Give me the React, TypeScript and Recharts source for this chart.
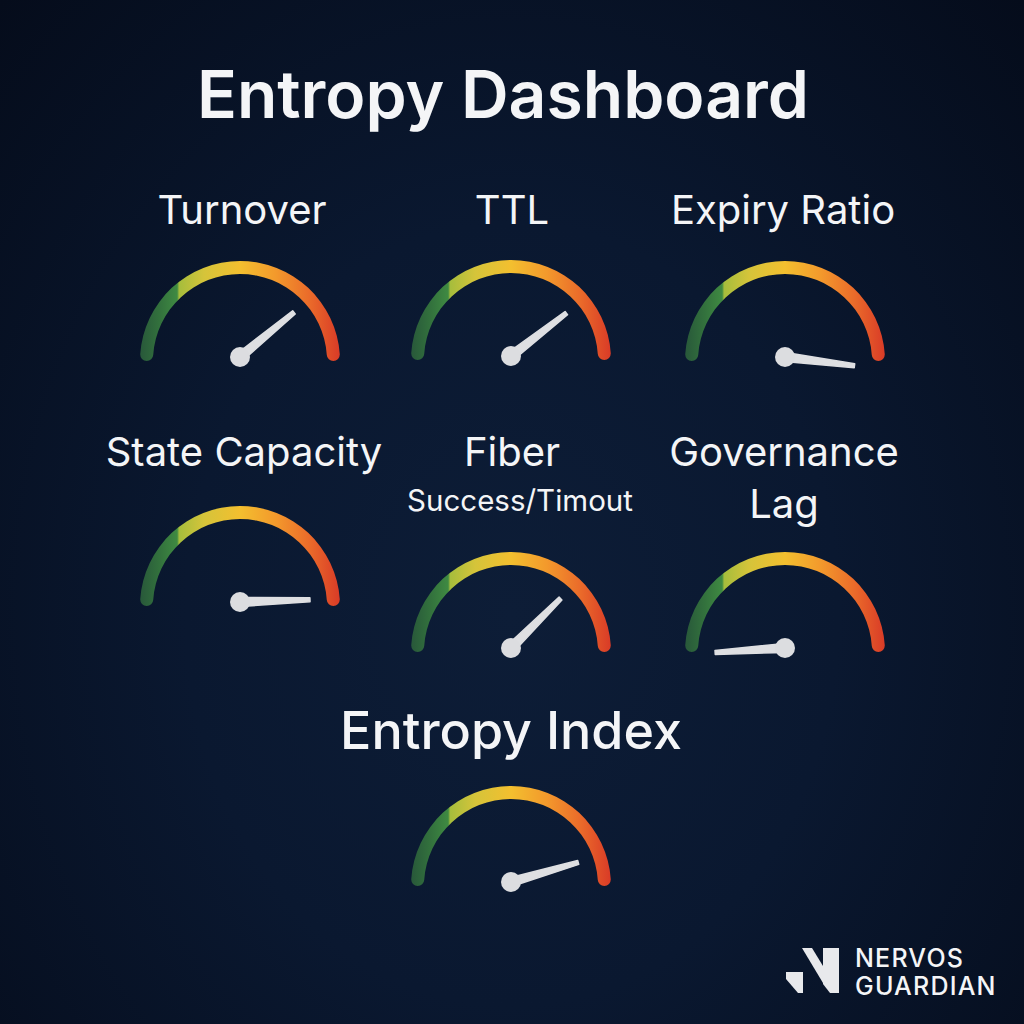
import { PieChart, Pie, Cell } from "recharts";

// gauge readings on a 0-100 scale (needles can sit slightly past the ends)
const gaugeNames = ["turnover", "ttl", "expiry", "stateCapacity", "fiber", "governanceLag", "entropyIndex"];
const gaugeValues = [78, 79, 104, 99, 75, -2, 91];
const gaugeCenters = [
  [240, 361],
  [511, 360],
  [785, 361],
  [240, 606],
  [511, 652],
  [785, 652],
  [511, 886],
];

const GAUGE_MAX = 100;
// needle pie covers a slightly wider scale so overshoot readings still map through the pie angles
const NEEDLE_MIN = -10;
const NEEDLE_MAX = 110;

const labels = [
  { text: "Entropy Dashboard", x: 503, y: 94, size: 66, weight: 600 },
  { text: "Turnover", x: 242, y: 210, size: 40, weight: 400 },
  { text: "TTL", x: 512, y: 210, size: 40, weight: 400 },
  { text: "Expiry Ratio", x: 783, y: 210, size: 40, weight: 400 },
  { text: "State Capacity", x: 244, y: 452, size: 40, weight: 400 },
  { text: "Fiber", x: 512, y: 452, size: 40, weight: 400 },
  { text: "Success/Timout", x: 520, y: 501, size: 29.5, weight: 400 },
  { text: "Governance", x: 784, y: 452, size: 40, weight: 400 },
  { text: "Lag", x: 784, y: 504, size: 40, weight: 400 },
  { text: "Entropy Index", x: 511, y: 731, size: 52, weight: 500 },
];

const RADIUS = 100;
const THICK = 13;
const NEEDLE_LEN = 70;

const renderNeedle = (props: any) => {
  if (props.index !== 0) return null;
  const { cx, cy, endAngle } = props;
  const rad = (-endAngle * Math.PI) / 180;
  const ux = Math.cos(rad);
  const uy = Math.sin(rad);
  const px = -uy;
  const py = ux;
  const tx = cx + ux * NEEDLE_LEN;
  const ty = cy + uy * NEEDLE_LEN;
  const pts = [
    [cx + px * 4.5, cy + py * 4.5],
    [tx + px * 2, ty + py * 2],
    [tx - px * 2, ty - py * 2],
    [cx - px * 4.5, cy - py * 4.5],
  ]
    .map((p) => p.join(","))
    .join(" ");
  return (
    <g key={"needle-" + props.index}>
      <polygon points={pts} fill="#dedfe2" stroke="#dedfe2" strokeWidth={1.5} strokeLinejoin="round" />
      <circle cx={cx} cy={cy} r={10} fill="#dcdde0" />
    </g>
  );
};

export default function App() {
  return (
    <div
      style={{
        position: "absolute",
        left: 0,
        top: 0,
        width: 1024,
        height: 1024,
        overflow: "hidden",
        background: "radial-gradient(ellipse at 50% 60%, #0d1d37 0%, #0a1830 45%, #050c1b 100%)",
        fontFamily: "Inter, 'Open Sans', sans-serif",
        color: "#f4f5f7",
      }}
    >
      <PieChart
        width={1024}
        height={1024}
        margin={{ top: 0, right: 0, bottom: 0, left: 0 }}
        style={{ position: "absolute", left: 0, top: 0 }}
      >
        <defs>
          <linearGradient id="arcGrad" x1="0" y1="0" x2="1" y2="0">
            <stop offset="0" stopColor="#28583a" />
            <stop offset="0.1" stopColor="#33723d" />
            <stop offset="0.185" stopColor="#3f8a42" />
            <stop offset="0.195" stopColor="#a6bd3c" />
            <stop offset="0.32" stopColor="#d5c43a" />
            <stop offset="0.5" stopColor="#f3bf2f" />
            <stop offset="0.68" stopColor="#f3992c" />
            <stop offset="0.85" stopColor="#ea6a2a" />
            <stop offset="1" stopColor="#d93b27" />
          </linearGradient>
        </defs>
        {gaugeNames.map((name, i) => (
          <Pie
            key={"arc-" + name}
            data={[{ name, value: GAUGE_MAX }]}
            dataKey="value"
            cx={gaugeCenters[i][0]}
            cy={gaugeCenters[i][1]}
            startAngle={180}
            endAngle={0}
            innerRadius={RADIUS - THICK}
            outerRadius={RADIUS}
            cornerRadius={THICK / 2}
            stroke="none"
            isAnimationActive={false}
          >
            <Cell fill="url(#arcGrad)" />
          </Pie>
        ))}
        {gaugeNames.map((name, i) => (
          <Pie
            key={"needle-" + name}
            data={[
              { name: "reading", value: gaugeValues[i] - NEEDLE_MIN },
              { name: "rest", value: NEEDLE_MAX - gaugeValues[i] },
            ]}
            dataKey="value"
            cx={gaugeCenters[i][0]}
            cy={gaugeCenters[i][1] - 4}
            startAngle={198}
            endAngle={-18}
            innerRadius={0}
            outerRadius={1}
            fill="transparent"
            stroke="none"
            label={renderNeedle}
            labelLine={false}
            isAnimationActive={false}
          />
        ))}
      </PieChart>
      {labels.map((l) => (
        <div
          key={l.text}
          style={{
            position: "absolute",
            left: l.x - 400,
            top: l.y,
            width: 800,
            textAlign: "center",
            fontSize: l.size,
            fontWeight: l.weight,
            lineHeight: 1,
            transform: "translateY(-50%)",
            whiteSpace: "nowrap",
          }}
        >
          {l.text}
        </div>
      ))}
      <svg width={60} height={50} style={{ position: "absolute", left: 783, top: 946 }}>
        <polygon points="40,2 56,2 56,47 47,47 40,38" fill="#e8e9ec" />
        <polygon points="19,2 29,2 40,20 40,37" fill="#e8e9ec" />
        <polygon points="3,26 20,26 20,47 15,47 3,33" fill="#e8e9ec" />
      </svg>
      <div
        style={{
          position: "absolute",
          left: 855,
          top: 944,
          fontSize: 25,
          fontWeight: 500,
          letterSpacing: 1.2,
          lineHeight: "28px",
          color: "#f4f5f7",
        }}
      >
        NERVOS
        <br />
        GUARDIAN
      </div>
    </div>
  );
}
